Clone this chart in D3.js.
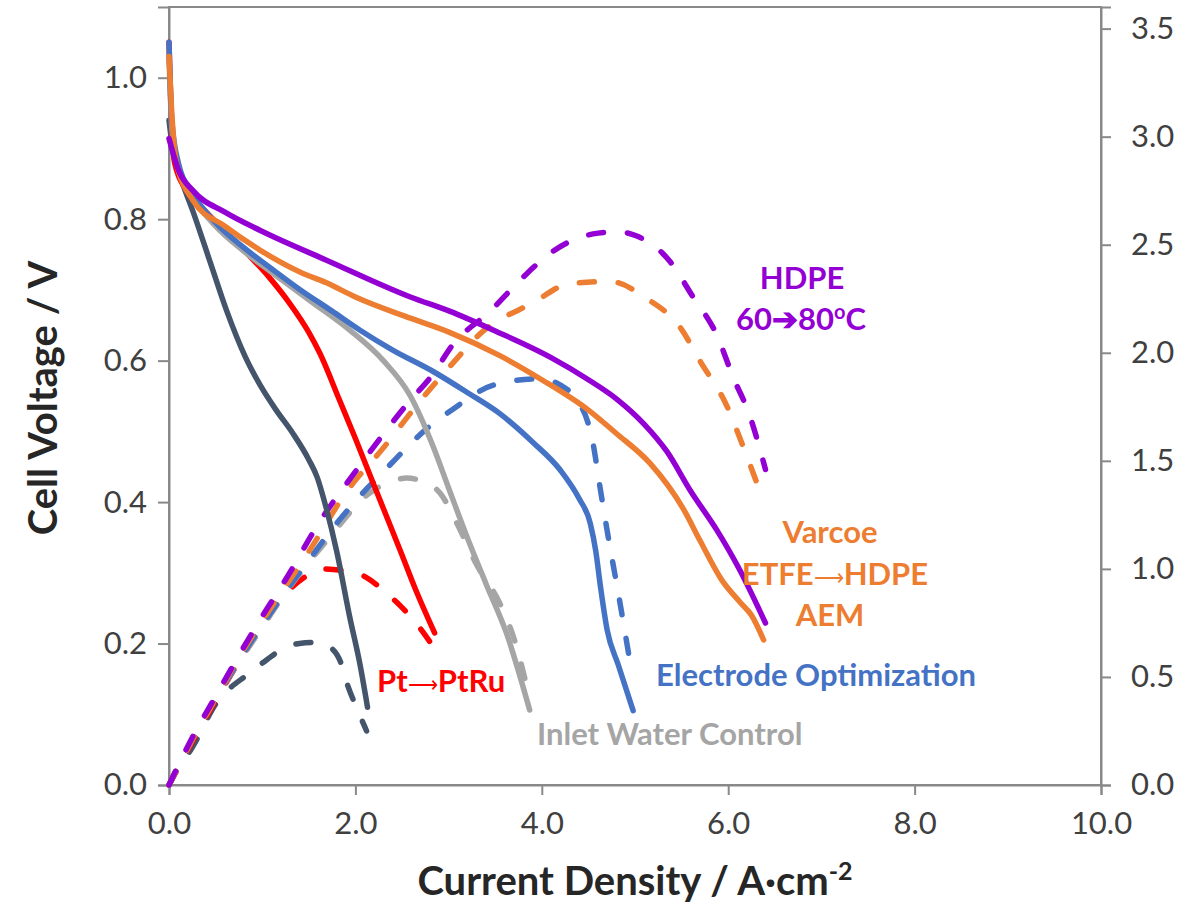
<!DOCTYPE html>
<html>
<head>
<meta charset="utf-8">
<script src="https://cdn.jsdelivr.net/npm/d3@7"></script>
<style>
  body { margin: 0; background: #fff; }
  svg text { font-family: Lato, "Open Sans", sans-serif; }
</style>
</head>
<body>
<div id="chart"></div>
<script>
// polarization (V) and power density (W/cm2) curves, [current density, value]
var baseV = [[0,0.94],[0.05,0.89],[0.12,0.86],[0.26,0.81],[0.44,0.74],[0.62,0.67],[0.82,0.605],[0.98,0.565],[1.15,0.53],[1.33,0.497],[1.50,0.46],[1.59,0.435],[1.69,0.39],[1.80,0.33],[1.94,0.237],[2.05,0.17],[2.13,0.11]];
var baseP = [[0,0],[0.1,0.085],[0.23,0.16],[0.51,0.38],[0.87,0.52],[1.05,0.58],[1.22,0.63],[1.40,0.655],[1.59,0.66],[1.75,0.63],[1.84,0.57],[1.91,0.47],[2.0,0.37],[2.08,0.29],[2.12,0.25]];

var ptruV = [[0,1.05],[0.02,0.96],[0.06,0.88],[0.19,0.84],[0.4,0.81],[0.62,0.78],[0.85,0.75],[1.08,0.717],[1.3,0.68],[1.5,0.64],[1.62,0.61],[1.83,0.544],[2.0,0.49],[2.19,0.427],[2.48,0.332],[2.65,0.275],[2.85,0.215]];
var ptruP = [[0,0],[0.25,0.2],[0.5,0.39],[0.75,0.57],[0.98,0.72],[1.22,0.87],[1.45,0.96],[1.65,1.0],[1.9,0.99],[2.12,0.96],[2.3,0.9],[2.48,0.83],[2.65,0.75],[2.82,0.65]];

var inletV = [[0,1.03],[0.03,0.93],[0.1,0.87],[0.26,0.83],[0.5,0.79],[0.8,0.755],[1.1,0.725],[1.51,0.685],[1.94,0.643],[2.3,0.60],[2.59,0.55],[2.83,0.48],[3.0,0.42],[3.2,0.35],[3.4,0.285],[3.62,0.215],[3.87,0.106]];
var inletP = [[0,0],[0.25,0.21],[0.5,0.40],[0.75,0.57],[1.0,0.73],[1.25,0.89],[1.5,1.03],[1.73,1.15],[2.12,1.34],[2.35,1.40],[2.55,1.42],[2.75,1.40],[2.91,1.35],[3.09,1.21],[3.3,1.02],[3.55,0.84],[3.7,0.68],[3.87,0.40]];

var electV = [[0,1.05],[0.03,0.94],[0.1,0.88],[0.26,0.835],[0.5,0.795],[0.8,0.76],[1.1,0.73],[1.41,0.70],[1.75,0.67],[2.05,0.643],[2.4,0.615],[2.83,0.585],[3.2,0.555],[3.55,0.525],[3.9,0.485],[4.2,0.445],[4.4,0.405],[4.52,0.37],[4.58,0.33],[4.63,0.28],[4.7,0.22],[4.82,0.17],[4.98,0.105]];
var electP = [[0,0],[0.25,0.21],[0.5,0.40],[0.75,0.575],[1.0,0.74],[1.25,0.895],[1.5,1.04],[1.76,1.19],[2.12,1.37],[2.3,1.45],[2.77,1.65],[3.05,1.74],[3.48,1.85],[3.98,1.88],[4.2,1.85],[4.38,1.78],[4.5,1.67],[4.55,1.58],[4.62,1.39],[4.7,1.18],[4.84,0.84],[4.95,0.56]];

var varcoeV = [[0,1.03],[0.03,0.95],[0.08,0.88],[0.26,0.826],[0.6,0.79],[0.98,0.756],[1.41,0.725],[1.69,0.71],[2.0,0.69],[2.59,0.66],[3.01,0.64],[3.55,0.607],[4.0,0.573],[4.5,0.53],[4.8,0.497],[5.16,0.455],[5.52,0.39],[5.70,0.345],[5.93,0.29],[6.13,0.258],[6.25,0.24],[6.38,0.205]];
var varcoeP = [[0,0],[0.25,0.21],[0.5,0.40],[0.75,0.59],[1.0,0.76],[1.25,0.92],[1.5,1.08],[1.91,1.36],[2.3,1.56],[2.7,1.78],[3.0,1.93],[3.37,2.10],[3.9,2.23],[4.30,2.32],[4.73,2.33],[5.13,2.25],[5.48,2.12],[5.70,1.96],[5.99,1.75],[6.13,1.60],[6.34,1.36]];

var hdpeV = [[0,0.914],[0.1,0.87],[0.26,0.84],[0.6,0.81],[0.98,0.784],[1.69,0.742],[2.59,0.69],[3.01,0.67],[3.5,0.642],[4.09,0.605],[4.5,0.573],[4.81,0.545],[5.1,0.51],[5.34,0.472],[5.6,0.415],[5.88,0.36],[6.12,0.305],[6.40,0.229]];
var hdpeP = [[0,0],[0.25,0.22],[0.5,0.41],[0.75,0.60],[1.0,0.78],[1.25,0.95],[1.62,1.22],[2.0,1.45],[2.55,1.76],[2.83,1.90],[3.05,2.04],[3.44,2.19],[3.8,2.35],[4.12,2.47],[4.55,2.55],[4.81,2.56],[5.02,2.54],[5.38,2.42],[5.62,2.26],[5.88,2.08],[6.05,1.89],[6.23,1.71],[6.40,1.46]];

var xTicks = [0, 2, 4, 6, 8, 10];
var yTicks = [0, 0.2, 0.4, 0.6, 0.8, 1.0];
var y2Ticks = [0, 0.5, 1.0, 1.5, 2.0, 2.5, 3.0, 3.5];

var series = [
  { name: "base", color: "#44546A", v: baseV, p: baseP },
  { name: "ptru", color: "#FF0000", v: ptruV, p: ptruP },
  { name: "inlet", color: "#A5A5A5", v: inletV, p: inletP },
  { name: "electrode", color: "#4472C4", v: electV, p: electP },
  { name: "varcoe", color: "#ED7D31", v: varcoeV, p: varcoeP },
  { name: "hdpe", color: "#9400D3", v: hdpeV, p: hdpeP }
];

var W = 1178, H = 903;
var plot = { left: 169, right: 1101, top: 7, bottom: 785 };
var axisColor = "#898989", tickText = "#404040";

var svg = d3.select("#chart").append("svg")
  .attr("width", W)
  .attr("height", H);

var x = d3.scaleLinear().domain([0, 10]).range([plot.left, plot.right]);
var y = d3.scaleLinear().domain([0, 1.1]).range([plot.bottom, plot.top]);
var y2 = d3.scaleLinear().domain([0, 3.6]).range([plot.bottom, plot.top]);

// frame
svg.append("rect")
  .attr("x", plot.left).attr("y", plot.top)
  .attr("width", plot.right - plot.left).attr("height", plot.bottom - plot.top)
  .attr("fill", "none")
  .attr("stroke", axisColor)
  .attr("stroke-width", 2);

var fmt = d3.format(".1f");

var gx = svg.append("g")
  .attr("transform", "translate(0," + plot.bottom + ")")
  .call(d3.axisBottom(x).tickValues(xTicks).tickFormat(fmt).tickSize(10).tickPadding(17));
var gy = svg.append("g")
  .attr("transform", "translate(" + plot.left + ",0)")
  .call(d3.axisLeft(y).tickValues(yTicks).tickFormat(fmt).tickSize(11).tickPadding(11));
var gy2 = svg.append("g")
  .attr("transform", "translate(" + plot.right + ",0)")
  .call(d3.axisRight(y2).tickValues(y2Ticks).tickFormat(fmt).tickSize(10).tickPadding(20));

[gx, gy, gy2].forEach(function (g) {
  g.select(".domain").attr("stroke", axisColor).attr("stroke-width", 2);
  g.selectAll(".tick line").attr("stroke", axisColor).attr("stroke-width", 2);
  g.selectAll(".tick text")
    .attr("fill", tickText)
    .style("font-size", "31px");
});

// curves
var lineV = d3.line()
  .x(function (d) { return x(d[0]); })
  .y(function (d) { return y(d[1]); })
  .curve(d3.curveMonotoneX);
var lineP = d3.line()
  .x(function (d) { return x(d[0]); })
  .y(function (d) { return y2(d[1]); })
  .curve(d3.curveMonotoneX);

var curves = svg.append("g");
series.forEach(function (s) {
  curves.append("path")
    .attr("d", lineP(s.p))
    .attr("fill", "none")
    .attr("stroke", s.color)
    .attr("stroke-width", 5.5)
    .attr("stroke-linecap", "round")
    .attr("stroke-dasharray", "15,24");
});
series.forEach(function (s) {
  curves.append("path")
    .attr("d", lineV(s.v))
    .attr("fill", "none")
    .attr("stroke", s.color)
    .attr("stroke-width", 5.5)
    .attr("stroke-linecap", "round")
    .attr("stroke-linejoin", "round");
});

// annotations
function label(txt, cx, cy, color, anchor) {
  return svg.append("text")
    .attr("x", cx).attr("y", cy)
    .attr("text-anchor", anchor || "middle")
    .attr("fill", color)
    .style("font-size", "31px")
    .style("font-weight", "bold")
    .text(txt);
}
// thin long arrow drawn a bit smaller so the label keeps its width
function arrowLabel(a, b, cx, cy, color, anchor) {
  var t = label(a, cx, cy, color, anchor);
  t.append("tspan").style("font-size", "21px").style("font-weight", "normal").text("\u27F6");
  t.append("tspan").text(b);
  return t;
}

label("HDPE", 802, 289, "#9400D3");
var t = label("60\u279480", 801, 330, "#9400D3");
t.append("tspan").attr("dy", -11).style("font-size", "20px").text("o");
t.append("tspan").attr("dy", 11).text("C");
label("Varcoe", 830, 543, "#ED7D31");
arrowLabel("ETFE", "HDPE", 835, 585, "#ED7D31");
label("AEM", 830, 626, "#ED7D31");
label("Electrode Optimization", 656, 686, "#4472C4", "start");
label("Inlet Water Control", 537, 745, "#A5A5A5", "start");
arrowLabel("Pt", "PtRu", 377, 692, "#FF0000", "start");

// axis titles
svg.append("text")
  .attr("transform", "translate(57,398) rotate(-90)")
  .attr("text-anchor", "middle")
  .attr("fill", "#262626")
  .style("font-size", "40px")
  .style("font-weight", "bold")
  .text("Cell Voltage / V");

var xt = svg.append("text")
  .attr("x", 635).attr("y", 895)
  .attr("text-anchor", "middle")
  .attr("fill", "#262626")
  .style("font-size", "40px")
  .style("font-weight", "bold")
  .text("Current Density / A\u00B7cm");
xt.append("tspan").attr("dy", -15).style("font-size", "25px").text("-2");
</script>
</body>
</html>
